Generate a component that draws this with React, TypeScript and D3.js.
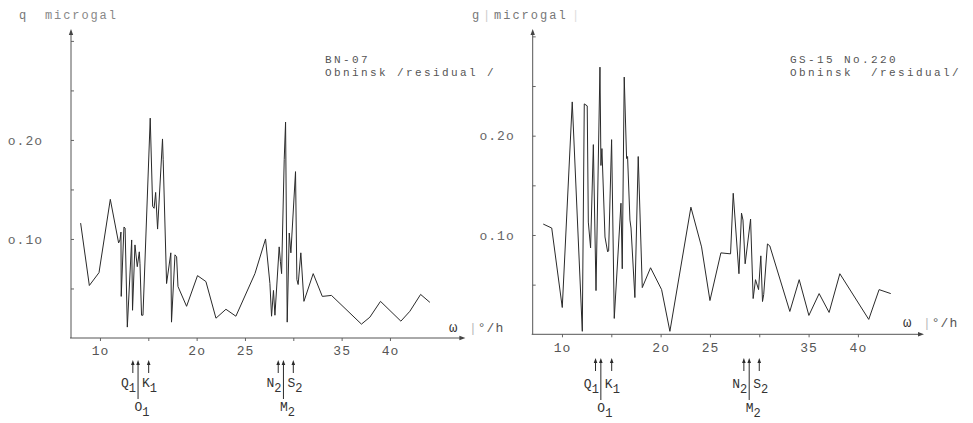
import React, { useEffect, useRef } from "react";
import * as d3 from "d3";

// BN-07 residual spectrum (omega in deg/h, amplitude in microgal)
const leftOmega = [8.0, 8.9, 9.9, 11.07, 11.93, 12.07, 12.17, 12.2, 12.48, 12.6, 12.83, 13.28, 13.37, 13.62, 13.86, 14.07, 14.14, 14.3, 14.45, 15.2, 15.45, 15.6, 15.76, 15.96, 16.47, 16.54, 16.89, 17.33, 17.4, 17.76, 17.93, 18.07, 18.96, 20.09, 20.96, 22.0, 23.03, 24.06, 26.03, 27.13, 27.58, 27.75, 27.95, 28.1, 28.54, 28.67, 28.79, 29.06, 29.2, 29.37, 29.58, 29.75, 30.23, 30.37, 30.5, 30.78, 31.1, 32.06, 33.0, 33.95, 37.05, 37.92, 39.02, 41.13, 42.06, 43.17, 44.13];
const leftAmp = [0.116, 0.053, 0.066, 0.14, 0.096, 0.099, 0.107, 0.042, 0.112, 0.111, 0.011, 0.099, 0.028, 0.094, 0.072, 0.087, 0.075, 0.023, 0.023, 0.222, 0.133, 0.131, 0.147, 0.11, 0.201, 0.18, 0.055, 0.086, 0.016, 0.084, 0.082, 0.052, 0.032, 0.063, 0.057, 0.02, 0.029, 0.022, 0.065, 0.1, 0.055, 0.022, 0.048, 0.023, 0.092, 0.077, 0.065, 0.18, 0.218, 0.016, 0.106, 0.086, 0.168, 0.059, 0.054, 0.086, 0.037, 0.065, 0.042, 0.043, 0.014, 0.021, 0.037, 0.017, 0.027, 0.044, 0.036];

// GS-15 No.220 residual spectrum
const rightOmega = [8.1, 8.96, 10.03, 11.04, 12.06, 12.26, 12.56, 12.67, 12.9, 13.18, 13.45, 13.85, 13.95, 14.05, 14.36, 14.63, 14.73, 15.03, 15.3, 15.98, 16.11, 16.31, 16.55, 16.65, 16.89, 17.0, 17.39, 17.73, 18.14, 18.98, 20.1, 20.94, 23.07, 24.15, 25.0, 26.11, 27.09, 27.36, 27.94, 28.2, 28.35, 28.57, 29.12, 29.38, 29.62, 29.93, 30.16, 30.33, 30.45, 30.83, 31.07, 33.1, 34.05, 35.03, 36.07, 37.08, 38.17, 41.1, 42.15, 43.33];
const rightAmp = [0.111, 0.107, 0.027, 0.234, 0.003, 0.232, 0.23, 0.113, 0.087, 0.191, 0.044, 0.269, 0.17, 0.187, 0.098, 0.083, 0.084, 0.196, 0.016, 0.132, 0.066, 0.259, 0.177, 0.179, 0.115, 0.107, 0.037, 0.179, 0.047, 0.067, 0.045, 0.003, 0.128, 0.088, 0.034, 0.082, 0.081, 0.142, 0.061, 0.122, 0.115, 0.071, 0.116, 0.036, 0.055, 0.045, 0.079, 0.033, 0.04, 0.091, 0.089, 0.023, 0.055, 0.019, 0.041, 0.022, 0.061, 0.015, 0.045, 0.041];

const xTicks = [10, 15, 20, 25, 30, 35, 40];
const xTickLabels = ["1o", "", "2o", "25", "", "35", "4o"];
const yTicks = [0.05, 0.1, 0.15, 0.2, 0.25, 0.3];
const yTickLabels = ["", "o.1o", "", "o.2o", "", ""];

// tidal constituents marked under the axis
const constNames = ["Q", "O", "K", "N", "M", "S"];
const constSubs = ["1", "1", "1", "2", "2", "2"];
const constOmega = [13.4, 13.94, 15.04, 28.44, 28.98, 30.0];
const constRole = ["before", "main", "after", "before", "main", "after"];
const constMain = [13.94, 13.94, 13.94, 28.98, 28.98, 28.98];

const FONT = "'Liberation Mono', 'DejaVu Sans Mono', monospace";

const panels = [
  {
    omega: leftOmega, amp: leftAmp,
    xDomain: [6.9, 47.7], xRange: [70, 464.4],
    yDomain: [0, 0.31], yRange: [338, 31],
    yLabelPad: 28,
    title: ["BN-07", "Obninsk /residual /"], titleX: 325,
    unitX: 449, unitY: 332,
    tipY: 360, shortEnd: 373, longEnd: 399, sideY: 387, mainY: 411,
  },
  {
    omega: rightOmega, amp: rightAmp,
    xDomain: [6.93, 46.6], xRange: [531.7, 923],
    yDomain: [0, 0.305], yRange: [334.3, 31.4],
    yLabelPad: 18,
    title: ["GS-15 No.220", "Obninsk  /residual/"], titleX: 790,
    unitX: 903, unitY: 327,
    tipY: 358, shortEnd: 371, longEnd: 400, sideY: 388, mainY: 412,
  },
];

export default function App() {
  const ref = useRef<SVGSVGElement>(null);

  useEffect(() => {
    const svg = d3.select(ref.current);
    svg.selectAll("*").remove();

    const ink = "#2a2a2a";
    const typed = "#555";

    panels.forEach((p) => {
      const x = d3.scaleLinear().domain(p.xDomain).range(p.xRange);
      const y = d3.scaleLinear().domain(p.yDomain).range(p.yRange);
      const g = svg.append("g");
      const x0 = p.xRange[0];
      const y0 = p.yRange[0];

      // x axis
      const xa = g.append("g")
        .attr("transform", `translate(0,${y0})`)
        .call(d3.axisBottom(x).tickValues(xTicks).tickSize(3).tickPadding(5)
          .tickFormat((d, i) => xTickLabels[i]));
      xa.select(".domain").remove();
      xa.selectAll("line").attr("stroke", "#666");
      xa.selectAll("text")
        .attr("fill", typed)
        .style("font-family", FONT)
        .style("font-size", "13px")
        .style("letter-spacing", "1px");
      g.append("line")
        .attr("x1", x0).attr("x2", p.xRange[1] - 2)
        .attr("y1", y0).attr("y2", y0)
        .attr("stroke", "#555").attr("stroke-width", 1);
      g.append("path")
        .attr("d", `M${p.xRange[1] + 1},${y0}l-6,-2.2v4.4z`)
        .attr("fill", "#444");

      // y axis
      const ya = g.append("g")
        .attr("transform", `translate(${x0 + 1},0)`)
        .call(d3.axisLeft(y).tickValues(yTicks).tickSize(-3).tickPadding(p.yLabelPad)
          .tickFormat((d, i) => yTickLabels[i]));
      ya.select(".domain").remove();
      ya.selectAll("line").attr("stroke", "#666");
      ya.selectAll("text")
        .attr("fill", "#666")
        .style("font-family", FONT)
        .style("font-size", "13px")
        .style("letter-spacing", "1px");
      g.append("line")
        .attr("x1", x0 + 1).attr("x2", x0 + 1)
        .attr("y1", y0).attr("y2", 34)
        .attr("stroke", "#555").attr("stroke-width", 1);
      g.append("path")
        .attr("d", `M${x0 + 1},29l-2.2,6h4.4z`)
        .attr("fill", "#444");

      // spectrum line
      const pts = p.omega.map((w, i) => [w, p.amp[i]] as [number, number]);
      g.append("path")
        .datum(pts)
        .attr("fill", "none")
        .attr("stroke", ink)
        .attr("stroke-width", 1)
        .attr("stroke-linejoin", "miter")
        .attr("d", d3.line<[number, number]>().x(d => x(d[0])).y(d => y(d[1])));

      // titles
      p.title.forEach((t, i) => {
        g.append("text")
          .attr("x", p.titleX).attr("y", 63 + i * 13)
          .attr("fill", typed)
          .attr("xml:space", "preserve")
          .style("white-space", "pre")
          .style("font-family", FONT)
          .style("font-size", "11px")
          .style("letter-spacing", "2.4px")
          .text(t);
      });

      // omega unit label
      g.append("text")
        .attr("x", p.unitX).attr("y", p.unitY)
        .attr("fill", "#333")
        .style("font-family", FONT)
        .style("font-size", "14px")
        .text("ω");
      const u = g.append("text")
        .attr("x", p.unitX + 20).attr("y", p.unitY)
        .attr("fill", typed)
        .style("font-family", FONT)
        .style("font-size", "13px")
        .style("letter-spacing", "1px");
      u.append("tspan").attr("fill", "#bbb").text("|");
      u.append("tspan").text("°/h");

      // constituent arrows
      constOmega.forEach((w, i) => {
        const cx = x(w);
        const main = constRole[i] === "main";
        const end = main ? p.longEnd : p.shortEnd;
        g.append("line")
          .attr("x1", cx).attr("x2", cx)
          .attr("y1", p.tipY + 3).attr("y2", end)
          .attr("stroke", ink).attr("stroke-width", 1);
        g.append("path")
          .attr("d", `M${cx},${p.tipY}l-1.8,5h3.6z`)
          .attr("fill", ink);

        const mx = x(constMain[i]);
        const t = g.append("text")
          .attr("fill", "#333")
          .style("font-family", FONT)
          .style("font-size", "13px");
        if (constRole[i] === "before") {
          t.attr("x", mx - 2).attr("y", p.sideY).attr("text-anchor", "end");
        } else if (constRole[i] === "after") {
          t.attr("x", mx + 4).attr("y", p.sideY).attr("text-anchor", "start");
        } else {
          t.attr("x", mx + 4).attr("y", p.mainY).attr("text-anchor", "middle");
        }
        t.append("tspan").text(constNames[i]);
        t.append("tspan").attr("dy", 5).style("font-size", "12px").text(constSubs[i]);
      });
    });

    // y units at top
    const unitText = (x: number, s: string, color: string, ls: number) =>
      svg.append("text")
        .attr("x", x).attr("y", 19)
        .attr("fill", color)
        .style("font-family", FONT)
        .style("font-size", "12px")
        .style("letter-spacing", `${ls}px`)
        .text(s);
    unitText(19, "q", "#777", 0);
    unitText(45, "microgal", "#888", 1.9);
    unitText(472, "g", "#777", 0);
    unitText(483, "|", "#ccc", 0);
    unitText(494, "microgal", "#777", 2);
    unitText(572, "|", "#ddd", 0);
  }, []);

  return (
    <svg
      ref={ref}
      width={973}
      height={423}
      style={{ position: "absolute", left: 0, top: 0, background: "#fff" }}
    />
  );
}
